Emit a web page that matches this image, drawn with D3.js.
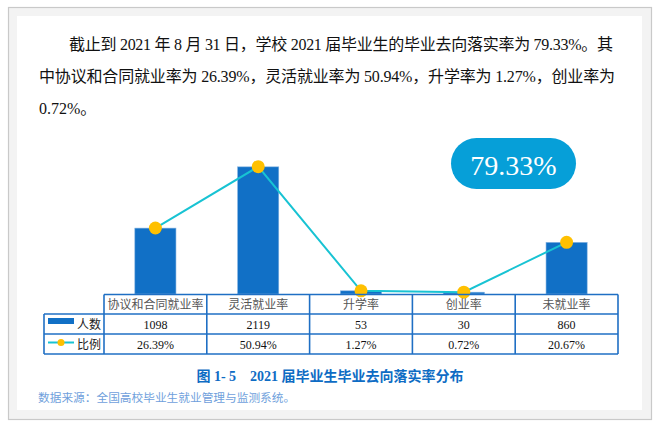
<!DOCTYPE html>
<html><head><meta charset="utf-8">
<script src="https://cdn.jsdelivr.net/npm/d3@7/dist/d3.min.js"></script>
<style>html,body{margin:0;padding:0;background:#fff;}svg{display:block;}</style>
</head><body><svg id="c" width="660" height="427"></svg>
<script>
const categories = ["协议和合同就业率", "灵活就业率", "升学率", "创业率", "未就业率"];
const counts = [1098, 2119, 53, 30, 860];
const rates = [26.39, 50.94, 1.27, 0.72, 20.67];
const seriesNames = ["人数", "比例"];
const headline = "79.33%";
const paragraph = [
  "截止到 2021 年 8 月 31 日，学校 2021 届毕业生的毕业去向落实率为 79.33%。其",
  "中协议和合同就业率为 26.39%，灵活就业率为 50.94%，升学率为 1.27%，创业率为",
  "0.72%。"
];
const caption = "图 1- 5　2021 届毕业生毕业去向落实率分布";
const source = "数据来源：全国高校毕业生就业管理与监测系统。";

const svg = d3.select("#c");
const FONT = "'Liberation Serif','Noto Sans CJK SC',serif";
const SANS = "'Noto Sans CJK SC','Liberation Serif',sans-serif";

// page frame
svg.append("rect").attr("x", 8.5).attr("y", 7.5).attr("width", 643).attr("height", 412)
  .attr("fill", "#f3f3f3").attr("stroke", "#c9c9c9").attr("stroke-width", 1.2);
svg.append("rect").attr("x", 17).attr("y", 16).attr("width", 625).attr("height", 394).attr("fill", "#fff");

// paragraph
const pLines = [{x: 69, y: 49.5, w: 544}, {x: 39, y: 81.5, w: 576}, {x: 39, y: 113.5, w: null}];
paragraph.forEach((t, i) => {
  const el = svg.append("text").attr("x", pLines[i].x).attr("y", pLines[i].y)
    .attr("font-family", FONT).attr("font-size", 16).attr("fill", "#111").text(t);
  if (pLines[i].w) el.attr("textLength", pLines[i].w).attr("lengthAdjust", "spacing");
});

// scales
const x = d3.scaleBand().domain(categories).range([104, 618]).padding(0);
const base = 294;
const yCount = d3.scaleLinear().domain([0, 2500]).range([base, base - 150]);
const yRate = d3.scaleLinear().domain([0, 60]).range([base, base - 150]);
const barW = x.bandwidth() * 0.4;

// bars
svg.append("g").selectAll("rect").data(categories).join("rect")
  .attr("x", d => x(d) + x.bandwidth() / 2 - barW / 2)
  .attr("y", (d, i) => yCount(counts[i]))
  .attr("width", barW)
  .attr("height", (d, i) => base - yCount(counts[i]))
  .attr("fill", "#1170c6").attr("stroke", "#7fb0e0").attr("stroke-width", 0.6);

// line
const line = d3.line().x((d, i) => x(categories[i]) + x.bandwidth() / 2).y(d => yRate(d));
svg.append("path").datum(rates).attr("d", line).attr("fill", "none")
  .attr("stroke", "#18c3d3").attr("stroke-width", 2);
svg.append("g").selectAll("circle").data(rates).join("circle")
  .attr("cx", (d, i) => x(categories[i]) + x.bandwidth() / 2)
  .attr("cy", d => yRate(d)).attr("r", 6.5).attr("fill", "#ffc000");

// badge
svg.append("rect").attr("x", 451).attr("y", 138).attr("width", 125).attr("height", 51)
  .attr("rx", 25.5).attr("fill", "#069fd8");
svg.append("text").attr("x", 513.5).attr("y", 175).attr("text-anchor", "middle")
  .attr("font-family", FONT).attr("font-size", 28).attr("fill", "#fff").text(headline);

// table
const rowY = [294.5, 314, 334, 354];
const tb = svg.append("g").attr("fill", "none").attr("stroke", "#1f6fc4").attr("stroke-width", 1.6);
tb.append("line").attr("x1", 104).attr("x2", 618).attr("y1", rowY[0]).attr("y2", rowY[0]);
[1, 2, 3].forEach(k => tb.append("line").attr("x1", 44).attr("x2", 618).attr("y1", rowY[k]).attr("y2", rowY[k]));
tb.append("line").attr("x1", 44).attr("x2", 44).attr("y1", rowY[1]).attr("y2", rowY[3]);
const colEdges = categories.map(c => x(c)).concat([618]);
colEdges.forEach(cx => tb.append("line").attr("x1", cx).attr("x2", cx).attr("y1", rowY[0]).attr("y2", rowY[3]));

const cellText = (cx, cy, t, col) => svg.append("text").attr("x", cx).attr("y", cy)
  .attr("text-anchor", "middle").attr("dominant-baseline", "central")
  .attr("font-family", FONT).attr("font-size", 12).attr("fill", col).text(t);
categories.forEach((c, i) => {
  const cx = x(c) + x.bandwidth() / 2;
  cellText(cx, 304.5, c, "#555");
  cellText(cx, 324.5, String(counts[i]), "#111");
  cellText(cx, 344.5, rates[i].toFixed(2) + "%", "#111");
});

// legend cells
svg.append("rect").attr("x", 48).attr("y", 318).attr("width", 26).attr("height", 6).attr("fill", "#1170c6");
svg.append("line").attr("x1", 48).attr("x2", 74).attr("y1", 342.5).attr("y2", 342.5)
  .attr("stroke", "#18c3d3").attr("stroke-width", 2);
svg.append("circle").attr("cx", 61).attr("cy", 342.5).attr("r", 3.5).attr("fill", "#ffc000");
[324.5, 344.5].forEach((cy, i) => svg.append("text").attr("x", 101).attr("y", cy)
  .attr("text-anchor", "end").attr("dominant-baseline", "central")
  .attr("font-family", FONT).attr("font-size", 12).attr("fill", "#222").text(seriesNames[i]));

// caption & source
svg.append("text").attr("x", 330).attr("y", 381).attr("text-anchor", "middle")
  .attr("font-family", FONT).attr("font-size", 14).attr("font-weight", "bold")
  .attr("fill", "#0e6cc4").text(caption);
svg.append("text").attr("x", 38).attr("y", 401.5)
  .attr("font-family", SANS).attr("font-size", 11.7).attr("fill", "#6f9fdc").text(source);
</script></body></html>
